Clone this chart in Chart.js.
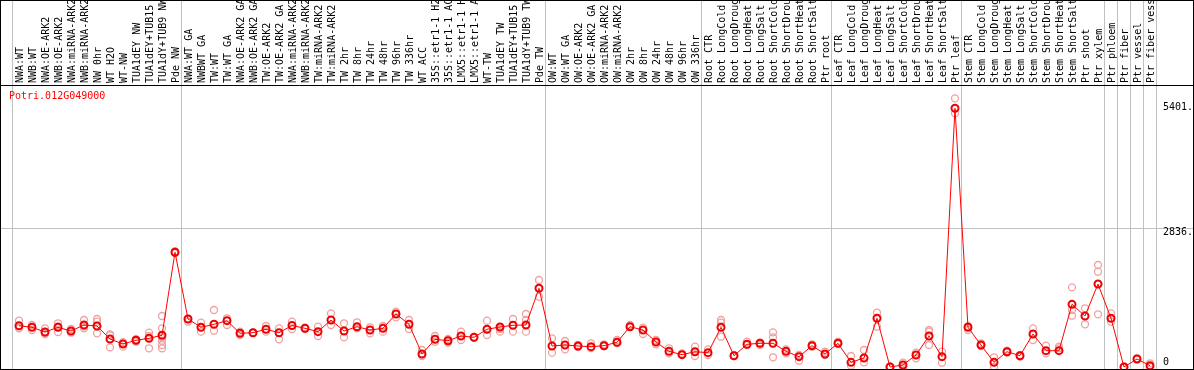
<!DOCTYPE html>
<html>
<head>
<meta charset="utf-8">
<script src="https://cdn.jsdelivr.net/npm/chart.js@4/dist/chart.umd.min.js"></script>
<style>
  html, body { margin: 0; padding: 0; background: #fff; }
  .frame { width: 1194px; height: 370px; box-sizing: border-box; border: 1px solid #000; }
  canvas { display: block; }
</style>
</head>
<body>
<div class="frame"><canvas id="myChart" width="1192" height="368"></canvas></div>
<script>
const geneName = "Potri.012G049000";

const samples = [
  "NWA:WT", "NWB:WT", "NWA:OE-ARK2", "NWB:OE-ARK2", "NWA:miRNA-ARK2", "NWB:miRNA-ARK2",
  "NW 0hr", "WT H2O", "WT-NW", "TUA1dEY NW", "TUA1dEY+TUB15 NW", "TUA1dY+TUB9 NW", "Pde NW",
  "NWA:WT GA", "NWBWT GA", "TW:WT", "TW:WT GA", "NWA:OE-ARK2 GA", "NWB:OE-ARK2 GA",
  "TW:OE-ARK2", "TW:OE-ARK2 GA", "NWA:miRNA-ARK2", "NWB:miRNA-ARK2", "TW:miRNA-ARK2", "TW:miRNA-ARK2",
  "TW 2hr", "TW 8hr", "TW 24hr", "TW 48hr", "TW 96hr", "TW 336hr", "WT ACC",
  "35S::etr1-1 H2O", "35S::etr1-1 ACC", "LMX5::etr1-1 H2O", "LMX5::etr1-1 ACC",
  "WT-TW", "TUA1dEY TW", "TUA1dEY+TUB15 TW", "TUA1dY+TUB9 TW", "Pde TW",
  "OW:WT", "OW:WT GA", "OW:OE-ARK2", "OW:OE-ARK2 GA", "OW:miRNA-ARK2", "OW:miRNA-ARK2",
  "OW 2hr", "OW 8hr", "OW 24hr", "OW 48hr", "OW 96hr", "OW 336hr",
  "Root CTR", "Root LongCold", "Root LongDrought", "Root LongHeat", "Root LongSalt",
  "Root ShortCold", "Root ShortDrought", "Root ShortHeat", "Root ShortSalt", "Ptr root",
  "Leaf CTR", "Leaf LongCold", "Leaf LongDrought", "Leaf LongHeat", "Leaf LongSalt",
  "Leaf ShortCold", "Leaf ShortDrought", "Leaf ShortHeat", "Leaf ShortSalt", "Ptr leaf",
  "Stem CTR", "Stem LongCold", "Stem LongDrought", "Stem LongHeat", "Stem LongSalt",
  "Stem ShortCold", "Stem ShortDrought", "Stem ShortHeat", "Stem ShortSalt", "Ptr shoot",
  "Ptr xylem", "Ptr phloem", "Ptr fiber", "Ptr vessel", "Ptr fiber vessel"
];

// mean expression per sample
const means = [
  845, 813, 716, 813, 737, 860, 839, 573, 471, 547, 587, 649, 2348,
  983, 813, 874, 948, 690, 702, 772, 702, 850, 792, 723, 962, 737, 825, 757, 792, 1085, 874,
  266, 567, 538, 635, 608, 772, 819, 854, 860, 1611,
  430, 450, 430, 416, 436, 506, 825, 757, 512, 321, 252, 313,
  293, 813, 231, 465, 485, 485, 321, 211, 436, 266,
  485, 96, 184, 997, 0, 41, 246, 635, 211, 5296,
  813, 450, 96, 313, 231, 676, 334, 334, 1283, 1044,
  1699, 997, 0, 164, 27
];

// individual replicates per sample
const replicates = [
  [948, 792, 800], [860, 757, 820], [792, 676, 690], [895, 716, 830], [778, 702, 730],
  [962, 792, 830], [983, 927, 690], [669, 403, 650], [485, 416, 510], [553, 518, 570],
  [702, 383, 635], [1044, 792, 608, 538, 450, 383], [2330, 2370],
  [927, 983], [907, 723], [1167, 743], [997, 860], [723, 655], [702, 696], [839, 723],
  [792, 567], [927, 778], [778, 808], [825, 635], [1099, 860], [895, 608], [915, 792],
  [813, 690], [723, 839], [1132, 1017], [962, 778], [348, 225], [635, 518], [497, 573],
  [723, 553], [608, 600], [948, 655], [778, 723], [983, 723], [1085, 962, 723], [1781, 1439],
  [587, 293], [532, 362], [450, 409], [485, 389], [465, 430], [553, 491], [860, 819],
  [804, 676], [553, 465], [383, 280], [280, 246], [416, 225],
  [362, 246], [962, 907, 620], [246, 225], [518, 450], [497, 450], [710, 608, 199],
  [362, 280], [246, 129], [465, 416], [313, 246],
  [518, 471], [225, 27], [348, 96], [1112, 825], [0, 10], [88, 0], [293, 178],
  [757, 723, 450], [313, 88], [5500, 5193],
  [757, 839], [485, 430], [199, 0], [334, 297], [246, 215], [792, 553], [436, 280],
  [416, 383], [1631, 1167, 1050], [1202, 874],
  [2088, 1951, 1079], [1099, 927], [6, 0], [178, 154], [76, 0]
];

const yTicks = [2836, 5401];
// grid line slots (between samples) that carry a group separator
const groupBreaks = [0, 13, 41, 53, 63, 73, 84, 85, 86, 87, 88];

const monoFont = { family: "'DejaVu Sans Mono', monospace", size: 10 };
const grey = "#c0c0c0";
const none = "rgba(0,0,0,0)";

const meanPoints = means.map((v, i) => ({ x: i, y: v }));
const repPoints = [];
replicates.forEach((list, i) => list.forEach((v) => repPoints.push({ x: i, y: v })));

// tick label padding would shrink the plot area, the original has none
function noPadding(scale) {
  scale.paddingLeft = 0;
  scale.paddingRight = 0;
  scale.paddingTop = 0;
  scale.paddingBottom = 0;
}

const geneLabel = {
  id: "geneLabel",
  afterDraw(chart) {
    const ctx = chart.ctx;
    ctx.save();
    ctx.font = "10px 'DejaVu Sans Mono', monospace";
    ctx.fillStyle = "#ff0000";
    ctx.textBaseline = "middle";
    ctx.fillText(geneName, chart.chartArea.left + 8, chart.chartArea.top + 11.5);
    ctx.restore();
  },
};

const config = {
  type: "scatter",
  data: {
    datasets: [
      {
        label: "mean",
        data: meanPoints,
        showLine: true,
        borderColor: "#ff0000",
        borderWidth: 1,
        pointRadius: 3.5,
        pointBorderWidth: 2,
        pointBorderColor: "#ee0000",
        pointBackgroundColor: "rgba(0,0,0,0)",
        xAxisID: "x",
        yAxisID: "y",
      },
      {
        label: "replicates",
        data: repPoints,
        showLine: false,
        pointRadius: 3.5,
        pointBorderWidth: 1.3,
        pointBorderColor: "#f0a0a0",
        pointBackgroundColor: "rgba(0,0,0,0)",
        xAxisID: "x",
        yAxisID: "y",
      },
    ],
  },
  options: {
    responsive: false,
    animation: false,
    devicePixelRatio: 1,
    layout: { padding: 0, autoPadding: false },
    plugins: {
      legend: { display: false },
      tooltip: { enabled: false },
      title: { display: false },
    },
    scales: {
      x: {
        type: "linear",
        position: "top",
        bounds: "data",
        min: -18 / 13,
        max: 1174 / 13,
        afterBuildTicks: (scale) => {
          scale.ticks = samples.map((s, i) => ({ value: i }));
        },
        afterFit: (scale) => {
          scale.height = 84;
          noPadding(scale);
        },
        grid: {
          offset: true,
          drawTicks: true,
          tickLength: 84,
          lineWidth: 1,
          color: (ctx) =>
            ctx.type === "scale" || groupBreaks.includes(ctx.index) ? grey : none,
        },
        border: { display: true, color: "#000", width: 1 },
        ticks: {
          autoSkip: false,
          minRotation: 90,
          maxRotation: 90,
          padding: -82,
          labelOffset: 13.5,
          color: "#000",
          font: monoFont,
          callback: (v) => samples[v],
        },
      },
      y: {
        type: "linear",
        position: "right",
        min: -41,
        max: 5773,
        afterBuildTicks: (scale) => {
          scale.ticks = yTicks.map((v) => ({ value: v }));
        },
        afterFit: (scale) => {
          scale.width = 0;
          noPadding(scale);
        },
        grid: {
          drawTicks: false,
          color: (ctx) => (ctx.tick && ctx.tick.value === 2836 ? grey : none),
        },
        border: { display: false },
        ticks: {
          mirror: true,
          crossAlign: "far",
          padding: 0,
          labelOffset: 4,
          color: "#000",
          font: monoFont,
          callback: (v) => v + ".",
        },
      },
      yZero: {
        type: "linear",
        position: "right",
        min: -41,
        max: 5773,
        afterBuildTicks: (scale) => {
          scale.ticks = [{ value: 0 }];
        },
        afterFit: (scale) => {
          scale.width = 0;
          noPadding(scale);
        },
        grid: { display: false, drawTicks: false },
        border: { display: false },
        ticks: {
          mirror: true,
          crossAlign: "far",
          padding: 0,
          labelOffset: -5,
          color: "#000",
          font: monoFont,
          callback: () => "0    ",
        },
      },
    },
  },
  plugins: [geneLabel],
};

var myChart = new Chart(document.getElementById("myChart"), config);
</script>
</body>
</html>
